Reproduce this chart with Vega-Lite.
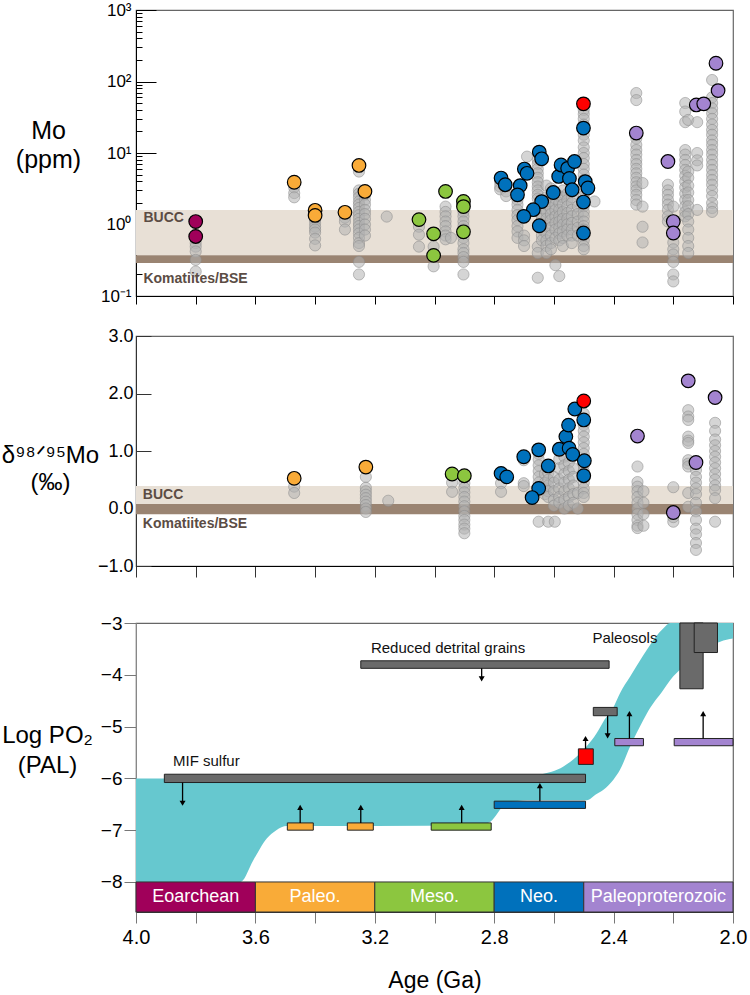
{
"$schema": "https://vega.github.io/schema/vega-lite/v6.json",
"padding": 0,
"autosize": {"type": "pad"},
"background": "white",
"config": {"font": "Liberation Sans", "view": {"stroke": "#666", "strokeWidth": 1.2}, "axis": {"grid": false, "labelFont": "Liberation Sans", "titleFont": "Liberation Sans", "labelColor": "#000", "titleColor": "#000", "titleFontWeight": "normal"}},
"datasets": {
"mo_gray": [
{"a":3.80,"v":0.55},{"a":3.80,"v":0.49},{"a":3.80,"v":0.42},{"a":3.80,"v":0.32},{"a":3.80,"v":0.22},
{"a":3.47,"v":3.3},{"a":3.47,"v":2.75},{"a":3.47,"v":2.4},
{"a":3.40,"v":1.45},{"a":3.40,"v":1.17},{"a":3.40,"v":1.05},{"a":3.40,"v":0.93},{"a":3.40,"v":0.85},{"a":3.40,"v":0.77},{"a":3.40,"v":0.63},{"a":3.40,"v":0.51},
{"a":3.30,"v":1.25},{"a":3.30,"v":1.1},{"a":3.30,"v":0.85},
{"a":3.253,"v":5.5},{"a":3.253,"v":3.0},{"a":3.253,"v":2.7},{"a":3.253,"v":2.4},{"a":3.253,"v":2.1},{"a":3.253,"v":1.9},{"a":3.253,"v":1.7},{"a":3.253,"v":1.5},{"a":3.253,"v":1.35},{"a":3.253,"v":1.2},{"a":3.253,"v":1.05},{"a":3.253,"v":0.95},{"a":3.253,"v":0.85},{"a":3.253,"v":0.75},{"a":3.253,"v":0.65},{"a":3.253,"v":0.55},{"a":3.253,"v":0.5},{"a":3.253,"v":0.3},{"a":3.253,"v":0.2},
{"a":3.233,"v":2.6},{"a":3.233,"v":2.2},{"a":3.233,"v":1.9},{"a":3.233,"v":1.6},{"a":3.233,"v":1.4},{"a":3.233,"v":1.2},{"a":3.233,"v":1.0},{"a":3.233,"v":0.85},{"a":3.233,"v":0.7},
{"a":3.16,"v":1.29},
{"a":3.052,"v":0.93},{"a":3.052,"v":0.72},{"a":3.052,"v":0.49},
{"a":3.003,"v":0.49},{"a":3.003,"v":0.26},
{"a":2.963,"v":1.78},{"a":2.963,"v":1.5},{"a":2.963,"v":1.3},{"a":2.963,"v":1.1},{"a":2.963,"v":0.95},{"a":2.963,"v":0.8},{"a":2.963,"v":0.7},{"a":2.963,"v":0.62},
{"a":2.945,"v":0.65},
{"a":2.903,"v":1.5},{"a":2.903,"v":1.3},{"a":2.903,"v":1.1},{"a":2.903,"v":0.95},{"a":2.903,"v":0.85},{"a":2.903,"v":0.75},{"a":2.903,"v":0.65},{"a":2.903,"v":0.55},{"a":2.903,"v":0.45},{"a":2.903,"v":0.4},{"a":2.903,"v":0.35},{"a":2.903,"v":0.3},{"a":2.903,"v":0.2},
{"a":2.78,"v":3.9},{"a":2.78,"v":3.4},{"a":2.78,"v":3.1},
{"a":2.76,"v":2.9},{"a":2.76,"v":2.5},
{"a":2.722,"v":2.2},{"a":2.722,"v":1.9},{"a":2.722,"v":1.6},{"a":2.722,"v":1.35},{"a":2.722,"v":1.15},{"a":2.722,"v":0.95},{"a":2.722,"v":0.8},{"a":2.722,"v":0.65},
{"a":2.70,"v":0.7},{"a":2.70,"v":0.6},{"a":2.70,"v":0.5},
{"a":2.69,"v":8.9},
{"a":2.654,"v":8},{"a":2.654,"v":7},{"a":2.654,"v":6},{"a":2.654,"v":5.2},{"a":2.654,"v":4.5},{"a":2.654,"v":3.9},{"a":2.654,"v":3.4},{"a":2.654,"v":3.0},{"a":2.654,"v":2.6},{"a":2.654,"v":2.3},{"a":2.654,"v":0.49},{"a":2.654,"v":0.40},{"a":2.654,"v":0.18},
{"a":2.64,"v":2.0},{"a":2.64,"v":1.7},{"a":2.64,"v":1.4},{"a":2.64,"v":1.2},{"a":2.64,"v":1.0},{"a":2.64,"v":0.85},{"a":2.64,"v":0.7},{"a":2.64,"v":0.6},
{"a":2.625,"v":3.5},{"a":2.625,"v":2.4},{"a":2.625,"v":1.9},{"a":2.625,"v":1.5},{"a":2.625,"v":1.2},{"a":2.625,"v":0.95},{"a":2.625,"v":0.75},{"a":2.625,"v":0.6},{"a":2.625,"v":0.5},{"a":2.625,"v":0.4},
{"a":2.61,"v":3.2},{"a":2.61,"v":2.6},{"a":2.61,"v":2.1},{"a":2.61,"v":1.7},{"a":2.61,"v":1.4},{"a":2.61,"v":1.15},{"a":2.61,"v":0.9},{"a":2.61,"v":0.7},{"a":2.61,"v":0.55},{"a":2.61,"v":0.45},
{"a":2.595,"v":2.8},{"a":2.595,"v":2.3},{"a":2.595,"v":1.9},{"a":2.595,"v":1.6},{"a":2.595,"v":1.3},{"a":2.595,"v":1.05},{"a":2.595,"v":0.85},{"a":2.595,"v":0.65},{"a":2.595,"v":0.27},
{"a":2.582,"v":2.5},{"a":2.582,"v":2.0},{"a":2.582,"v":1.6},{"a":2.582,"v":1.3},{"a":2.582,"v":1.1},{"a":2.582,"v":0.9},{"a":2.582,"v":0.75},{"a":2.582,"v":0.6},{"a":2.582,"v":0.19},
{"a":2.57,"v":3.0},{"a":2.57,"v":2.4},{"a":2.57,"v":1.9},{"a":2.57,"v":1.5},{"a":2.57,"v":1.2},{"a":2.57,"v":1.0},{"a":2.57,"v":0.8},{"a":2.57,"v":0.65},{"a":2.57,"v":0.5},
{"a":2.555,"v":2.7},{"a":2.555,"v":2.2},{"a":2.555,"v":1.8},{"a":2.555,"v":1.45},{"a":2.555,"v":1.2},{"a":2.555,"v":1.0},{"a":2.555,"v":0.85},{"a":2.555,"v":0.7},
{"a":2.54,"v":2.4},{"a":2.54,"v":2.0},{"a":2.54,"v":1.6},{"a":2.54,"v":1.3},{"a":2.54,"v":1.05},{"a":2.54,"v":0.85},{"a":2.54,"v":0.7},{"a":2.54,"v":0.55},
{"a":2.52,"v":1.8},{"a":2.52,"v":1.4},{"a":2.52,"v":1.1},{"a":2.52,"v":0.9},{"a":2.52,"v":0.7},
{"a":2.50,"v":40},{"a":2.50,"v":35},{"a":2.50,"v":30},{"a":2.50,"v":25},{"a":2.50,"v":18},{"a":2.50,"v":15},{"a":2.50,"v":12},{"a":2.50,"v":10},{"a":2.50,"v":8.5},{"a":2.50,"v":7},{"a":2.50,"v":6},{"a":2.50,"v":5},{"a":2.50,"v":4.2},{"a":2.50,"v":3.5},{"a":2.50,"v":3},{"a":2.50,"v":2.5},{"a":2.50,"v":2.1},{"a":2.50,"v":1.8},{"a":2.50,"v":1.5},{"a":2.50,"v":1.3},{"a":2.50,"v":1.1},{"a":2.50,"v":0.95},{"a":2.50,"v":0.85},{"a":2.50,"v":0.7},{"a":2.50,"v":0.6},{"a":2.50,"v":0.5},{"a":2.50,"v":0.45},
{"a":2.464,"v":2.1},
{"a":2.324,"v":69},{"a":2.324,"v":55},{"a":2.324,"v":16},{"a":2.324,"v":13},{"a":2.324,"v":11},{"a":2.324,"v":9.5},{"a":2.324,"v":8},{"a":2.324,"v":7},{"a":2.324,"v":6},{"a":2.324,"v":5.2},{"a":2.324,"v":4.5},{"a":2.324,"v":3.9},{"a":2.324,"v":3.4},{"a":2.324,"v":3.0},{"a":2.324,"v":2.6},{"a":2.324,"v":2.2},{"a":2.324,"v":1.9},
{"a":2.303,"v":3.8},{"a":2.303,"v":1.78},{"a":2.303,"v":0.93},{"a":2.303,"v":0.56},
{"a":2.218,"v":3.6},{"a":2.218,"v":3.0},{"a":2.218,"v":2.6},{"a":2.218,"v":2.2},{"a":2.218,"v":1.9},{"a":2.218,"v":1.6},{"a":2.218,"v":1.3},{"a":2.218,"v":1.1},
{"a":2.20,"v":1.78},{"a":2.20,"v":0.56},{"a":2.20,"v":0.45},{"a":2.20,"v":0.38},{"a":2.20,"v":0.3},{"a":2.20,"v":0.2},{"a":2.20,"v":0.16},
{"a":2.16,"v":50},{"a":2.16,"v":38},{"a":2.16,"v":27},{"a":2.16,"v":11},{"a":2.16,"v":9.5},{"a":2.16,"v":8},{"a":2.16,"v":6.8},{"a":2.16,"v":5.8},{"a":2.16,"v":4.8},{"a":2.16,"v":4.0},{"a":2.16,"v":3.3},{"a":2.16,"v":2.7},{"a":2.16,"v":2.2},{"a":2.16,"v":1.8},{"a":2.16,"v":1.5},{"a":2.16,"v":1.3},
{"a":2.15,"v":29},{"a":2.15,"v":5.5},{"a":2.15,"v":4.5},{"a":2.15,"v":3.5},{"a":2.15,"v":2.8},{"a":2.15,"v":2.2},{"a":2.15,"v":1.8},{"a":2.15,"v":1.4},{"a":2.15,"v":1.1},{"a":2.15,"v":0.85},{"a":2.15,"v":0.65},{"a":2.15,"v":0.5},{"a":2.15,"v":0.4},
{"a":2.12,"v":27},{"a":2.12,"v":10},{"a":2.12,"v":7.9},{"a":2.12,"v":6.7},{"a":2.12,"v":1.6},
{"a":2.07,"v":105},{"a":2.07,"v":60},{"a":2.07,"v":50},{"a":2.07,"v":42},{"a":2.07,"v":36},{"a":2.07,"v":30},{"a":2.07,"v":25},{"a":2.07,"v":21},{"a":2.07,"v":18},{"a":2.07,"v":15},{"a":2.07,"v":13},{"a":2.07,"v":11},{"a":2.07,"v":9.5},{"a":2.07,"v":8},{"a":2.07,"v":6.8},{"a":2.07,"v":5.8},{"a":2.07,"v":4.9},{"a":2.07,"v":4.2},{"a":2.07,"v":3.6},{"a":2.07,"v":3.0},{"a":2.07,"v":2.5},{"a":2.07,"v":2.0},{"a":2.07,"v":1.7},{"a":2.07,"v":1.5}
],
"mo_col": [
{"a":3.80,"v":1.1,"c":"eo"},{"a":3.80,"v":0.68,"c":"eo"},
{"a":3.47,"v":3.9,"c":"pa"},{"a":3.40,"v":1.58,"c":"pa"},{"a":3.40,"v":1.34,"c":"pa"},{"a":3.30,"v":1.48,"c":"pa"},{"a":3.253,"v":6.7,"c":"pa"},{"a":3.233,"v":2.9,"c":"pa"},
{"a":3.052,"v":1.17,"c":"me"},{"a":3.003,"v":0.74,"c":"me"},{"a":3.003,"v":0.37,"c":"me"},{"a":2.963,"v":2.9,"c":"me"},{"a":2.903,"v":2.1,"c":"me"},{"a":2.903,"v":1.78,"c":"me"},{"a":2.903,"v":0.79,"c":"me"},
{"a":2.777,"v":4.46,"c":"ne"},{"a":2.763,"v":3.6,"c":"ne"},{"a":2.713,"v":3.5,"c":"ne"},{"a":2.722,"v":2.6,"c":"ne"},{"a":2.699,"v":5.96,"c":"ne"},{"a":2.69,"v":5.2,"c":"ne"},{"a":2.649,"v":10.3,"c":"ne"},{"a":2.641,"v":8.3,"c":"ne"},{"a":2.641,"v":2.09,"c":"ne"},{"a":2.669,"v":1.61,"c":"ne"},{"a":2.701,"v":1.30,"c":"ne"},{"a":2.649,"v":0.96,"c":"ne"},{"a":2.602,"v":2.8,"c":"ne"},{"a":2.584,"v":4.7,"c":"ne"},{"a":2.576,"v":6.8,"c":"ne"},{"a":2.554,"v":6.1,"c":"ne"},{"a":2.548,"v":4.4,"c":"ne"},{"a":2.531,"v":7.6,"c":"ne"},{"a":2.539,"v":3.06,"c":"ne"},{"a":2.501,"v":22.3,"c":"ne"},{"a":2.495,"v":3.98,"c":"ne"},{"a":2.486,"v":3.24,"c":"ne"},{"a":2.501,"v":2.06,"c":"ne"},{"a":2.501,"v":0.76,"c":"ne"},
{"a":2.501,"v":48.7,"c":"red"},
{"a":2.324,"v":19,"c":"pp"},{"a":2.218,"v":7.6,"c":"pp"},{"a":2.20,"v":1.10,"c":"pp"},{"a":2.20,"v":0.76,"c":"pp"},{"a":2.123,"v":47,"c":"pp"},{"a":2.098,"v":48.7,"c":"pp"},{"a":2.05,"v":74.6,"c":"pp"},{"a":2.057,"v":180,"c":"pp"}
],
"d_gray": [
{"a":3.47,"v":0.38},{"a":3.47,"v":0.27},
{"a":3.23,"v":0.55},{"a":3.23,"v":0.36},{"a":3.23,"v":0.30},{"a":3.23,"v":0.24},{"a":3.23,"v":0.18},{"a":3.23,"v":0.12},{"a":3.23,"v":0.06},{"a":3.23,"v":0.0},{"a":3.23,"v":-0.06},
{"a":3.155,"v":0.135},
{"a":2.941,"v":0.45},{"a":2.941,"v":0.29},
{"a":2.90,"v":0.44},{"a":2.90,"v":0.36},{"a":2.90,"v":0.28},{"a":2.90,"v":0.2},{"a":2.90,"v":0.12},{"a":2.90,"v":0.04},{"a":2.90,"v":-0.05},{"a":2.90,"v":-0.13},{"a":2.90,"v":-0.2},{"a":2.90,"v":-0.28},{"a":2.90,"v":-0.35},{"a":2.90,"v":-0.43},
{"a":2.777,"v":0.44},{"a":2.777,"v":0.29},
{"a":2.701,"v":0.84},{"a":2.701,"v":0.44},{"a":2.701,"v":0.39},
{"a":2.651,"v":0.95},{"a":2.651,"v":0.85},{"a":2.651,"v":0.75},{"a":2.651,"v":0.65},{"a":2.651,"v":0.55},{"a":2.651,"v":0.45},{"a":2.651,"v":-0.23},
{"a":2.63,"v":0.6},{"a":2.63,"v":0.45},{"a":2.63,"v":0.35},{"a":2.63,"v":0.25},
{"a":2.619,"v":0.62},{"a":2.619,"v":0.5},{"a":2.619,"v":0.4},{"a":2.619,"v":0.3},{"a":2.619,"v":0.2},{"a":2.619,"v":-0.23},
{"a":2.60,"v":0.55},{"a":2.60,"v":0.45},{"a":2.60,"v":0.3},{"a":2.60,"v":0.15},{"a":2.60,"v":0.05},{"a":2.597,"v":-0.23},
{"a":2.582,"v":0.86},{"a":2.582,"v":0.7},{"a":2.582,"v":0.5},{"a":2.582,"v":0.35},{"a":2.582,"v":0.2},{"a":2.582,"v":0.1},
{"a":2.565,"v":0.9},{"a":2.565,"v":0.75},{"a":2.565,"v":0.6},{"a":2.565,"v":0.45},{"a":2.565,"v":0.3},{"a":2.565,"v":0.15},{"a":2.565,"v":0.0},
{"a":2.55,"v":0.8},{"a":2.55,"v":0.65},{"a":2.55,"v":0.5},{"a":2.55,"v":0.35},{"a":2.55,"v":0.2},{"a":2.55,"v":0.05},
{"a":2.535,"v":0.7},{"a":2.535,"v":0.55},{"a":2.535,"v":0.4},{"a":2.535,"v":0.25},{"a":2.535,"v":0.1},
{"a":2.52,"v":0.0},{"a":2.52,"v":0.27},
{"a":2.50,"v":1.65},{"a":2.50,"v":1.45},{"a":2.50,"v":1.35},{"a":2.50,"v":1.25},{"a":2.50,"v":1.15},{"a":2.50,"v":1.05},{"a":2.50,"v":0.95},{"a":2.50,"v":0.75},{"a":2.50,"v":0.65},{"a":2.50,"v":0.45},{"a":2.50,"v":0.35},{"a":2.50,"v":0.27},{"a":2.50,"v":0.2},
{"a":2.32,"v":0.73},{"a":2.32,"v":0.46},{"a":2.32,"v":0.38},{"a":2.32,"v":0.3},{"a":2.32,"v":0.2},{"a":2.32,"v":0.1},{"a":2.32,"v":0.0},{"a":2.32,"v":-0.1},{"a":2.32,"v":-0.2},{"a":2.32,"v":-0.3},{"a":2.32,"v":-0.34},
{"a":2.30,"v":0.3},{"a":2.30,"v":0.1},{"a":2.30,"v":-0.1},{"a":2.30,"v":-0.3},
{"a":2.20,"v":0.37},{"a":2.20,"v":-0.23},{"a":2.20,"v":-0.15},
{"a":2.15,"v":1.71},{"a":2.15,"v":1.6},{"a":2.15,"v":1.54},{"a":2.15,"v":1.25},{"a":2.15,"v":1.18},{"a":2.15,"v":1.14},{"a":2.15,"v":0.84},{"a":2.15,"v":0.78},{"a":2.15,"v":0.73},{"a":2.15,"v":0.27},{"a":2.15,"v":0.03},
{"a":2.124,"v":0.67},{"a":2.124,"v":0.55},{"a":2.124,"v":0.45},{"a":2.124,"v":0.35},{"a":2.124,"v":0.25},{"a":2.124,"v":0.1},{"a":2.124,"v":-0.05},{"a":2.124,"v":-0.2},{"a":2.124,"v":-0.35},{"a":2.124,"v":-0.45},{"a":2.124,"v":-0.6},{"a":2.124,"v":-0.72},
{"a":2.06,"v":1.49},{"a":2.06,"v":1.35},{"a":2.06,"v":1.2},{"a":2.06,"v":1.1},{"a":2.06,"v":1.0},{"a":2.06,"v":0.9},{"a":2.06,"v":0.8},{"a":2.06,"v":0.7},{"a":2.06,"v":0.6},{"a":2.06,"v":0.5},{"a":2.06,"v":0.4},{"a":2.06,"v":0.32},{"a":2.06,"v":0.18},{"a":2.06,"v":-0.23}
],
"d_col": [
{"a":3.47,"v":0.525,"c":"pa"},{"a":3.23,"v":0.72,"c":"pa"},
{"a":2.941,"v":0.60,"c":"me"},{"a":2.90,"v":0.57,"c":"me"},
{"a":2.777,"v":0.61,"c":"ne"},{"a":2.758,"v":0.55,"c":"ne"},{"a":2.701,"v":0.90,"c":"ne"},{"a":2.651,"v":1.02,"c":"ne"},{"a":2.619,"v":0.74,"c":"ne"},{"a":2.651,"v":0.35,"c":"ne"},{"a":2.673,"v":0.19,"c":"ne"},{"a":2.582,"v":1.03,"c":"ne"},{"a":2.56,"v":1.25,"c":"ne"},{"a":2.551,"v":1.45,"c":"ne"},{"a":2.549,"v":1.05,"c":"ne"},{"a":2.537,"v":0.94,"c":"ne"},{"a":2.53,"v":1.73,"c":"ne"},{"a":2.50,"v":1.54,"c":"ne"},{"a":2.498,"v":0.83,"c":"ne"},{"a":2.50,"v":0.57,"c":"ne"},
{"a":2.50,"v":1.87,"c":"red"},
{"a":2.32,"v":1.26,"c":"pp"},{"a":2.20,"v":-0.07,"c":"pp"},{"a":2.15,"v":2.22,"c":"pp"},{"a":2.124,"v":0.80,"c":"pp"},{"a":2.06,"v":1.93,"c":"pp"}
],
"band": [
{"a":4.0,"hi":-6,"lo":-8},{"a":3.65,"hi":-6,"lo":-8},{"a":3.607,"hi":-6,"lo":-7.58},{"a":3.562,"hi":-6,"lo":-7.16},{"a":3.53,"hi":-6,"lo":-7.0},{"a":3.495,"hi":-6,"lo":-6.92},{"a":3.2,"hi":-6,"lo":-6.92},{"a":2.85,"hi":-6,"lo":-6.9},{"a":2.814,"hi":-6,"lo":-6.84},{"a":2.758,"hi":-6,"lo":-6.48},{"a":2.69,"hi":-5.98,"lo":-6.42},{"a":2.647,"hi":-5.93,"lo":-6.42},{"a":2.568,"hi":-5.77,"lo":-6.42},{"a":2.513,"hi":-5.52,"lo":-6.42},{"a":2.49,"hi":-5.38,"lo":-6.42},{"a":2.457,"hi":-5.13,"lo":-6.3},{"a":2.434,"hi":-4.9,"lo":-6.22},{"a":2.40,"hi":-4.62,"lo":-6.02},{"a":2.379,"hi":-4.36,"lo":-5.84},{"a":2.345,"hi":-4.04,"lo":-5.39},{"a":2.30,"hi":-3.62,"lo":-4.87},{"a":2.289,"hi":-3.52,"lo":-4.75},{"a":2.233,"hi":-3.1,"lo":-4.29},{"a":2.21,"hi":-3.0,"lo":-4.1},{"a":2.166,"hi":-3.0,"lo":-3.84},{"a":2.10,"hi":-3.0,"lo":-3.52},{"a":2.043,"hi":-3.0,"lo":-3.36},{"a":2.0,"hi":-3.0,"lo":-3.30}
],
"bars": [
{"a1":3.905,"a2":2.494,"lo":-6.08,"hi":-5.92,"c":"gray"},
{"a1":3.247,"a2":2.415,"lo":-3.875,"hi":-3.73,"c":"gray"},
{"a1":2.468,"a2":2.388,"lo":-4.79,"hi":-4.63,"c":"gray"},
{"a1":2.178,"a2":2.10,"lo":-4.27,"hi":-3.0,"c":"gray"},
{"a1":2.13,"a2":2.052,"lo":-3.57,"hi":-3.0,"c":"gray"},
{"a1":2.518,"a2":2.468,"lo":-5.73,"hi":-5.43,"c":"red"},
{"a1":3.493,"a2":3.406,"lo":-7.0,"hi":-6.86,"c":"pa"},
{"a1":3.292,"a2":3.205,"lo":-7.0,"hi":-6.86,"c":"pa"},
{"a1":3.011,"a2":2.81,"lo":-7.0,"hi":-6.86,"c":"me"},
{"a1":2.80,"a2":2.494,"lo":-6.58,"hi":-6.44,"c":"ne"},
{"a1":2.396,"a2":2.30,"lo":-5.37,"hi":-5.23,"c":"pp"},
{"a1":2.197,"a2":2.0,"lo":-5.37,"hi":-5.23,"c":"pp"}
],
"arrows": [
{"a":3.45,"from":-6.86,"to":-6.56,"dir":"up"},
{"a":3.247,"from":-6.86,"to":-6.56,"dir":"up"},
{"a":2.909,"from":-6.86,"to":-6.56,"dir":"up"},
{"a":2.647,"from":-6.44,"to":-6.14,"dir":"up"},
{"a":2.494,"from":-5.43,"to":-5.23,"dir":"up"},
{"a":2.347,"from":-5.23,"to":-4.75,"dir":"up"},
{"a":2.10,"from":-5.23,"to":-4.75,"dir":"up"},
{"a":3.844,"from":-6.08,"to":-6.48,"dir":"down"},
{"a":2.842,"from":-3.875,"to":-4.08,"dir":"down"},
{"a":2.42,"from":-4.79,"to":-5.18,"dir":"down"}
],
"eras": [
{"a1":4.0,"a2":3.6,"mid":3.8,"c":"eo","name":"Eoarchean"},
{"a1":3.6,"a2":3.2,"mid":3.4,"c":"pa","name":"Paleo."},
{"a1":3.2,"a2":2.8,"mid":3.0,"c":"me","name":"Meso."},
{"a1":2.8,"a2":2.5,"mid":2.65,"c":"ne","name":"Neo."},
{"a1":2.5,"a2":2.0,"mid":2.25,"c":"pp","name":"Paleoproterozoic"}
]
},
"spacing": 40,
"bounds": "flush",
"vconcat": [
{
"width": 597, "height": 286,
"layer": [
{"data": {"values": [{"lo": 0.37, "hi": 1.6}]}, "mark": {"type": "rect", "color": "#e8e0d6"},
 "encoding": {"y": {"field": "lo", "type": "quantitative", "scale": {"type": "log", "domain": [0.1, 1000], "nice": false},
   "axis": {"title": ["Mo", "(ppm)"], "titleAngle": 0, "titleAlign": "center", "titleBaseline": "alphabetic", "titleX": -88, "titleY": 128, "titleFontSize": 25, "titleLineHeight": 29,
   "values": [0.1,0.2,0.3,0.4,0.5,0.6,0.7,0.8,0.9,1,2,3,4,5,6,7,8,9,10,20,30,40,50,60,70,80,90,100,200,300,400,500,600,700,800,900,1000],
   "labelExpr": "datum.value == 1000 ? '10³' : datum.value == 100 ? '10²' : datum.value == 10 ? '10¹' : datum.value == 1 ? '10⁰' : datum.value == 0.1 ? '10⁻¹' : ''",
   "labelFontSize": 17, "tickSize": {"condition": {"test": "indexof([0.1,1,10,100,1000], datum.value) >= 0", "value": -20}, "value": -6},
   "labelPadding": 25, "tickColor": "#000", "domainColor": "#000", "labelFlush": false}},
   "y2": {"field": "hi"}}},
{"data": {"values": [{"lo": 0.29, "hi": 0.37}]}, "mark": {"type": "rect", "color": "#9a8472"},
 "encoding": {"y": {"field": "lo", "type": "quantitative"}, "y2": {"field": "hi"}}},
{"data": {"name": "mo_gray"}, "mark": {"type": "circle", "size": 125, "fill": "#b3b3b3", "fillOpacity": 0.55, "stroke": "#8c8c8c", "strokeOpacity": 0.55, "strokeWidth": 1},
 "encoding": {"x": {"field": "a", "type": "quantitative", "scale": {"domain": [2, 4], "reverse": true, "nice": false, "zero": false},
   "axis": {"values": [4,3.8,3.6,3.4,3.2,3,2.8,2.6,2.4,2.2,2], "labels": false, "title": null, "tickSize": 8, "tickColor": "#000", "domainColor": "#000"}},
   "y": {"field": "v", "type": "quantitative"}}},
{"data": {"name": "mo_col"}, "mark": {"type": "circle", "size": 185, "opacity": 1, "stroke": "#000", "strokeWidth": 1.2},
 "encoding": {"x": {"field": "a", "type": "quantitative"}, "y": {"field": "v", "type": "quantitative"},
   "fill": {"field": "c", "type": "nominal", "scale": {"domain": ["eo","pa","me","ne","pp","red","gray"], "range": ["#a0005a","#f9ab38","#8cc63f","#0071bc","#a384d0","#ff0000","#6a6a6a"]}, "legend": null}}},
{"data": {"values": [{"a": 3.975, "v": 1.07, "t": "BUCC"}, {"a": 3.975, "v": 0.152, "t": "Komatiites/BSE"}]},
 "mark": {"type": "text", "align": "left", "baseline": "alphabetic", "fontSize": 14, "fontWeight": "bold", "color": "#5b4c44"},
 "encoding": {"x": {"field": "a", "type": "quantitative"}, "y": {"field": "v", "type": "quantitative"}, "text": {"field": "t"}}}
]
},
{
"spacing": 57,
"bounds": "flush",
"vconcat": [
{
"width": 597, "height": 230,
"layer": [
{"data": {"values": [{"lo": 0.08, "hi": 0.39}]}, "mark": {"type": "rect", "color": "#e8e0d6"},
 "encoding": {"y": {"field": "lo", "type": "quantitative", "scale": {"domain": [-1, 3], "nice": false, "zero": false},
   "axis": {"title": ["δ⁹⁸ᐟ⁹⁵Mo", "(‰)"], "titleAngle": 0, "titleAlign": "center", "titleBaseline": "alphabetic", "titleX": -86, "titleY": 126, "titleFontSize": 24, "titleLineHeight": 27,
   "values": [-1,-0.5,0,0.5,1,1.5,2,2.5,3],
   "labelExpr": "datum.value % 1 == 0 ? format(datum.value, '.1f') : ''",
   "labelFontSize": 18, "tickSize": {"condition": {"test": "datum.value % 1 == 0", "value": -15}, "value": -8},
   "labelPadding": 18, "tickColor": "#333", "domainColor": "#333", "labelFlush": false}},
   "y2": {"field": "hi"}}},
{"data": {"values": [{"lo": -0.1, "hi": 0.08}]}, "mark": {"type": "rect", "color": "#9a8472"},
 "encoding": {"y": {"field": "lo", "type": "quantitative"}, "y2": {"field": "hi"}}},
{"data": {"name": "d_gray"}, "mark": {"type": "circle", "size": 125, "fill": "#b3b3b3", "fillOpacity": 0.55, "stroke": "#8c8c8c", "strokeOpacity": 0.55, "strokeWidth": 1},
 "encoding": {"x": {"field": "a", "type": "quantitative", "scale": {"domain": [2, 4], "reverse": true, "nice": false, "zero": false},
   "axis": {"values": [4,3.8,3.6,3.4,3.2,3,2.8,2.6,2.4,2.2,2], "labels": false, "title": null, "tickSize": 11, "tickColor": "#333", "domainColor": "#000"}},
   "y": {"field": "v", "type": "quantitative"}}},
{"data": {"name": "d_col"}, "mark": {"type": "circle", "size": 185, "opacity": 1, "stroke": "#000", "strokeWidth": 1.2},
 "encoding": {"x": {"field": "a", "type": "quantitative"}, "y": {"field": "v", "type": "quantitative"},
   "fill": {"field": "c", "type": "nominal", "legend": null}}},
{"data": {"values": [{"a": 3.977, "v": 0.165, "t": "BUCC"}, {"a": 3.977, "v": -0.345, "t": "Komatiites/BSE"}]},
 "mark": {"type": "text", "align": "left", "baseline": "alphabetic", "fontSize": 14, "fontWeight": "bold", "color": "#5b4c44"},
 "encoding": {"x": {"field": "a", "type": "quantitative"}, "y": {"field": "v", "type": "quantitative"}, "text": {"field": "t"}}}
]
},
{
"width": 597, "height": 289,
"layer": [
{"data": {"name": "band"}, "mark": {"type": "area", "color": "#66c8cf", "interpolate": "monotone", "opacity": 1},
 "encoding": {"x": {"field": "a", "type": "quantitative", "scale": {"domain": [2, 4], "reverse": true, "nice": false, "zero": false},
   "axis": {"values": [4,3.8,3.6,3.4,3.2,3,2.8,2.6,2.4,2.2,2], "format": ".1f", "labelExpr": "indexof(['4.0','3.6','3.2','2.8','2.4','2.0'], datum.label) >= 0 ? datum.label : ''",
     "labelFontSize": 20, "labelPadding": 4, "tickSize": 11, "tickColor": "#777", "domainColor": "#333", "labelFlush": false,
     "title": "Age (Ga)", "titleFontSize": 23, "titlePadding": 22}},
   "y": {"field": "hi", "type": "quantitative", "scale": {"domain": [-8.58, -3], "nice": false, "zero": false},
   "axis": {"title": ["Log PO₂", "(PAL)"], "titleAngle": 0, "titleAlign": "center", "titleBaseline": "alphabetic", "titleX": -89, "titleY": 119, "titleFontSize": 24, "titleLineHeight": 30,
     "values": [-8,-7,-6,-5,-4,-3], "format": ".0f", "labelFontSize": 19, "labelPadding": 2, "tickSize": 12, "tickColor": "#777", "domainColor": "#888", "labelFlush": false}},
   "y2": {"field": "lo"}}},
{"data": {"name": "bars"}, "mark": {"type": "rect", "stroke": "#222", "strokeWidth": 1},
 "encoding": {"x": {"field": "a1", "type": "quantitative"}, "x2": {"field": "a2"}, "y": {"field": "lo", "type": "quantitative"}, "y2": {"field": "hi"},
   "fill": {"field": "c", "type": "nominal", "legend": null}}},
{"data": {"name": "arrows"}, "mark": {"type": "rule", "color": "#000", "strokeWidth": 1.3},
 "encoding": {"x": {"field": "a", "type": "quantitative"}, "y": {"field": "from", "type": "quantitative"}, "y2": {"field": "to"}}},
{"data": {"name": "arrows"}, "mark": {"type": "point", "filled": true, "color": "#000", "size": 36, "opacity": 1},
 "encoding": {"x": {"field": "a", "type": "quantitative"}, "y": {"field": "to", "type": "quantitative"},
   "shape": {"field": "dir", "type": "nominal", "scale": {"domain": ["up", "down"], "range": ["triangle-up", "triangle-down"]}, "legend": null}}},
{"data": {"values": [{"a": 3.876, "v": -5.77, "t": "MIF sulfur"}, {"a": 3.213, "v": -3.585, "t": "Reduced detrital grains"}, {"a": 2.471, "v": -3.39, "t": "Paleosols"}]},
 "mark": {"type": "text", "align": "left", "baseline": "alphabetic", "fontSize": 15, "color": "#111"},
 "encoding": {"x": {"field": "a", "type": "quantitative"}, "y": {"field": "v", "type": "quantitative"}, "text": {"field": "t"}}},
{"data": {"name": "eras"}, "mark": {"type": "rect", "stroke": "#333", "strokeWidth": 1},
 "encoding": {"x": {"field": "a1", "type": "quantitative"}, "x2": {"field": "a2"}, "y": {"datum": -8.58}, "y2": {"datum": -8.0},
   "fill": {"field": "c", "type": "nominal", "legend": null}}},
{"data": {"name": "eras"}, "mark": {"type": "text", "align": "center", "baseline": "middle", "fontSize": 18, "color": "#fff"},
 "encoding": {"x": {"field": "mid", "type": "quantitative"}, "y": {"datum": -8.29}, "text": {"field": "name"}}}
]
}
]
}
]
}
